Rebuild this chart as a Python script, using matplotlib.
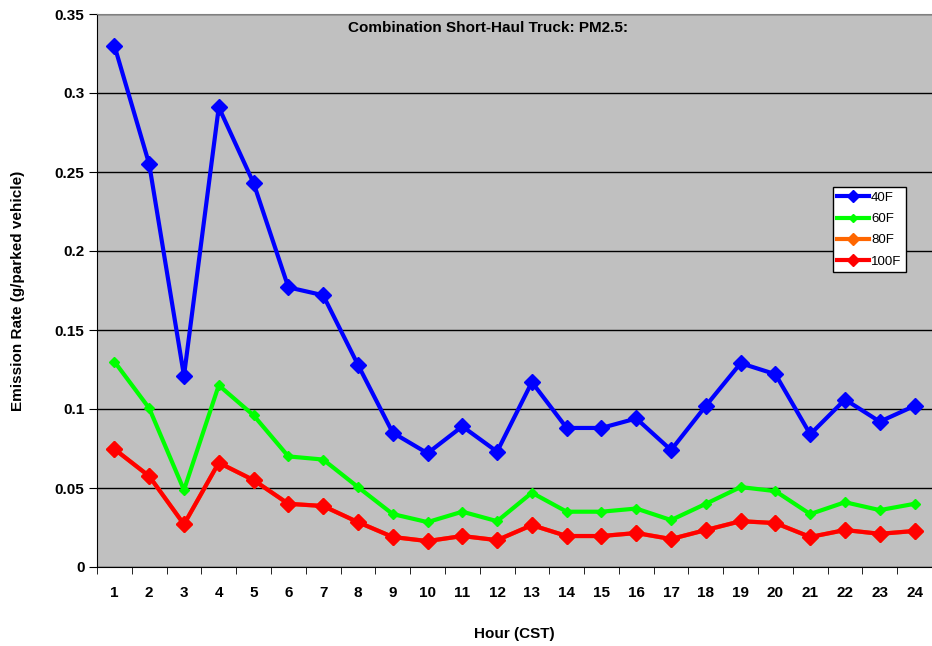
import numpy as np
import matplotlib
matplotlib.use('Agg')
import matplotlib.pyplot as plt

plt.rcParams['font.family'] = ['Liberation Sans', 'DejaVu Sans']

hours = list(range(1, 25))
f40 = [0.330, 0.255, 0.121, 0.291, 0.243, 0.177, 0.172, 0.128, 0.085, 0.072, 0.089, 0.073,
       0.117, 0.088, 0.088, 0.094, 0.074, 0.102, 0.129, 0.122, 0.084, 0.106, 0.092, 0.102]
f60 = [0.130, 0.1005, 0.0487, 0.115, 0.096, 0.070, 0.068, 0.0506, 0.0335, 0.0284, 0.035, 0.029,
       0.047, 0.035, 0.035, 0.037, 0.0297, 0.040, 0.0506, 0.048, 0.0335, 0.041, 0.036, 0.040]
f80 = [0.0746, 0.0575, 0.027, 0.066, 0.055, 0.040, 0.0386, 0.0284, 0.019, 0.0164, 0.0196, 0.017,
       0.0265, 0.0196, 0.0196, 0.0215, 0.0177, 0.0234, 0.029, 0.0278, 0.019, 0.0234, 0.021, 0.0228]
f100 = [0.0746, 0.0575, 0.027, 0.066, 0.055, 0.040, 0.0386, 0.0284, 0.019, 0.0164, 0.0196, 0.017,
        0.0265, 0.0196, 0.0196, 0.0215, 0.0177, 0.0234, 0.029, 0.0278, 0.019, 0.0234, 0.021, 0.0228]

fig = plt.figure(figsize=(9.32, 6.46), dpi=100)
ax = fig.add_axes([97/932, 79/646, 835/932, 553/646])
ax.set_facecolor('#C0C0C0')

ax.plot(hours, f40, color='#0000FF', marker='D', ms=8, lw=3, label='40F')
ax.plot(hours, f60, color='#00FF00', marker='D', ms=5, lw=3, label='60F')
ax.plot(hours, f80, color='#FF6600', marker='D', ms=8, lw=3, label='80F')
ax.plot(hours, f100, color='#FF0000', marker='D', ms=8, lw=3, label='100F')

ax.set_xlim(0.5, 24.5)
ax.set_ylim(0, 0.35)
ax.set_yticks(np.arange(0, 0.36, 0.05))
ax.set_yticklabels(['0', '0.05', '0.1', '0.15', '0.2', '0.25', '0.3', '0.35'],
                   fontsize=11, fontweight='bold')
ax.yaxis.grid(True, color='black', lw=1)
ax.set_axisbelow(True)

ax.set_xticks(hours)
ax.set_xticklabels([str(h) for h in hours], fontsize=11, fontweight='bold')
ax.set_xticks(np.arange(0.5, 25, 1), minor=True)
ax.tick_params(axis='x', which='major', length=0, pad=14)
ax.tick_params(axis='x', which='minor', length=5, direction='out')
ax.tick_params(axis='y', length=6, direction='out', pad=3)

ax.spines['right'].set_visible(False)
ax.spines['top'].set_color('#808080')

ax.set_xlabel('Hour (CST)', fontsize=11, fontweight='bold')
ax.xaxis.set_label_coords(0.5, -0.108)
ax.set_ylabel('Emission Rate (g/parked vehicle)', fontsize=11, fontweight='bold')
ax.yaxis.set_label_coords(-0.086, 0.5)
ax.text(0.468, 0.988, 'Combination Short-Haul Truck: PM2.5:', transform=ax.transAxes,
        ha='center', va='top', fontsize=11, fontweight='bold')

leg = ax.legend(loc='upper left', bbox_to_anchor=(0.881, 0.687), prop={'size': 9.5},
                frameon=True, fancybox=False, edgecolor='black', framealpha=1,
                handlelength=2.4, handletextpad=0.15, borderpad=0.35, labelspacing=0.68,
                borderaxespad=0, markerscale=0.75)
leg.get_frame().set_linewidth(1)

fig.savefig('out.png', dpi=100)
